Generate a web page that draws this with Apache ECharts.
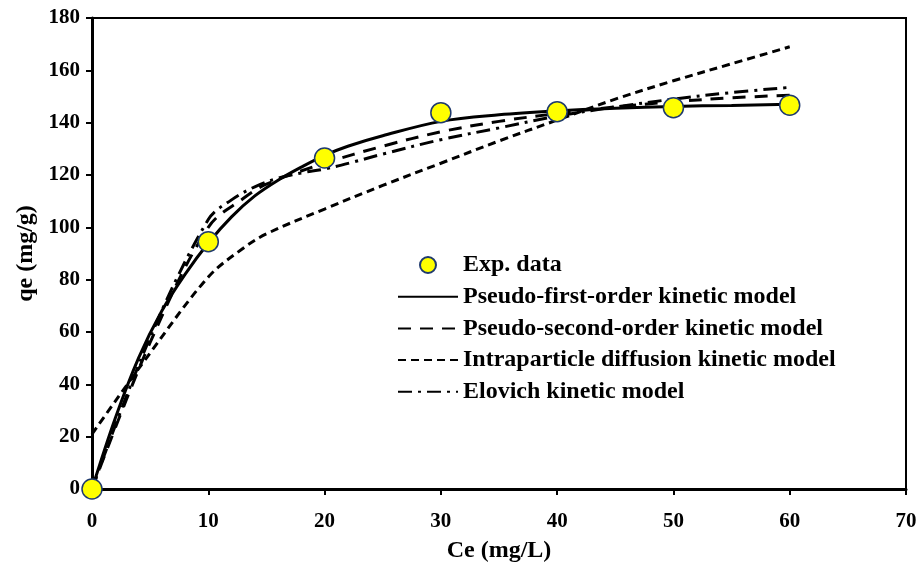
<!DOCTYPE html>
<html>
<head>
<meta charset="utf-8">
<script src="https://cdn.jsdelivr.net/npm/echarts@6/dist/echarts.min.js"></script>
<style>
html, body { margin: 0; padding: 0; background: #fff; }
#chart { width: 918px; height: 562px; }
</style>
</head>
<body>
<div id="chart"></div>
<script>
// experimental points
var expData = [[0, 0], [10, 94.5], [20, 126.5], [30, 143.8], [40, 144.2], [50, 145.7], [60, 146.7]];

// model curves
var pfoData = [[0, 0], [2, 27], [4, 50], [6, 68], [8, 82], [10, 94], [12, 104], [14, 112], [16, 118],
    [18, 123], [20, 127.5], [22, 131], [25, 135], [30, 140.5], [35, 143], [40, 144.5], [45, 145.5],
    [50, 146.2], [55, 146.6], [60, 147]];
var psoData = [[0, 0], [5, 56], [10, 100], [13, 111], [15, 116.5], [20, 124.5], [25, 131], [30, 136.5],
    [35, 140.5], [40, 143.5], [45, 146], [50, 148], [55, 149.5], [60, 150.5]];
var ipdData = [[0, 21], [5, 52], [10, 81], [13, 92], [15, 97.5], [20, 107], [25, 116], [30, 124.5],
    [35, 133], [40, 141], [45, 149], [50, 156], [55, 162.5], [60, 169]];
var eloData = [[0, 0], [5, 58], [10, 103], [12, 110.5], [14, 115.5], [16, 118.8], [18, 120.8], [20, 122.3],
    [22.5, 125], [25, 128], [30, 133.5], [35, 138], [40, 142.5], [45, 146], [50, 149], [55, 151.5], [60, 153.5]];

var xTicks = [0, 10, 20, 30, 40, 50, 60, 70];
var yTicks = [0, 20, 40, 60, 80, 100, 120, 140, 160, 180];

var seriesNames = ['Exp. data', 'Pseudo-first-order kinetic model', 'Pseudo-second-order kinetic model',
    'Intraparticle diffusion kinetic model', 'Elovich kinetic model'];

var font = "'Liberation Serif', 'Times New Roman', serif";

function lineSeries(name, data, type) {
    return {
        name: name,
        type: 'line',
        data: data,
        smooth: 0.35,
        symbol: 'none',
        z: 2,
        itemStyle: { color: 'rgba(0,0,0,0)', borderWidth: 0 },
        lineStyle: { color: '#000', width: 3, type: type }
    };
}

var chart = echarts.init(document.getElementById('chart'));
chart.setOption({
    backgroundColor: '#fff',
    animation: false,
    grid: {
        left: 92, right: 12, top: 18, bottom: 73,
        outerBoundsMode: 'none',
        containLabel: false,
        show: true, borderColor: '#000', borderWidth: 2
    },
    legend: {
        orient: 'vertical',
        left: 392,
        top: 248,
        itemWidth: 60,
        itemHeight: 16,
        itemGap: 7.7,
        data: seriesNames,
        textStyle: { fontFamily: font, fontWeight: 'bold', fontSize: 24, color: '#000' }
    },
    xAxis: {
        type: 'value',
        min: 0, max: 70, interval: 10,
        name: 'Ce (mg/L)',
        nameLocation: 'middle',
        nameGap: 50,
        nameTextStyle: { fontFamily: font, fontWeight: 'bold', fontSize: 24, color: '#000' },
        axisLine: { lineStyle: { color: '#000', width: 3 } },
        axisTick: { show: true, inside: false, length: 6, lineStyle: { color: '#000', width: 2 } },
        axisLabel: {
            fontFamily: font, fontWeight: 'bold', fontSize: 21, color: '#000', margin: 22,
            formatter: function (v) { return xTicks.indexOf(v) >= 0 ? String(v) : ''; }
        },
        splitLine: { show: false }
    },
    yAxis: {
        type: 'value',
        min: 0, max: 180, interval: 20,
        name: 'qe (mg/g)',
        nameLocation: 'middle',
        nameGap: 54,
        nameRotate: 90,
        nameTextStyle: { fontFamily: font, fontWeight: 'bold', fontSize: 24, color: '#000' },
        axisLine: { lineStyle: { color: '#000', width: 3 } },
        axisTick: { show: true, inside: false, length: 6, lineStyle: { color: '#000', width: 2 } },
        axisLabel: {
            fontFamily: font, fontWeight: 'bold', fontSize: 21, color: '#000', margin: 12,
            formatter: function (v) { return yTicks.indexOf(v) >= 0 ? String(v) : ''; }
        },
        splitLine: { show: false }
    },
    series: [
        {
            name: seriesNames[0],
            type: 'scatter',
            data: expData,
            symbol: 'circle',
            symbolSize: 20,
            z: 5,
            itemStyle: { color: '#ffff00', borderColor: '#1f3a6e', borderWidth: 1.5, opacity: 1 }
        },
        lineSeries(seriesNames[1], pfoData, 'solid'),
        lineSeries(seriesNames[2], psoData, [13, 9]),
        lineSeries(seriesNames[3], ipdData, [8, 5]),
        lineSeries(seriesNames[4], eloData, [14, 6, 3, 6])
    ]
});
</script>
</body>
</html>
